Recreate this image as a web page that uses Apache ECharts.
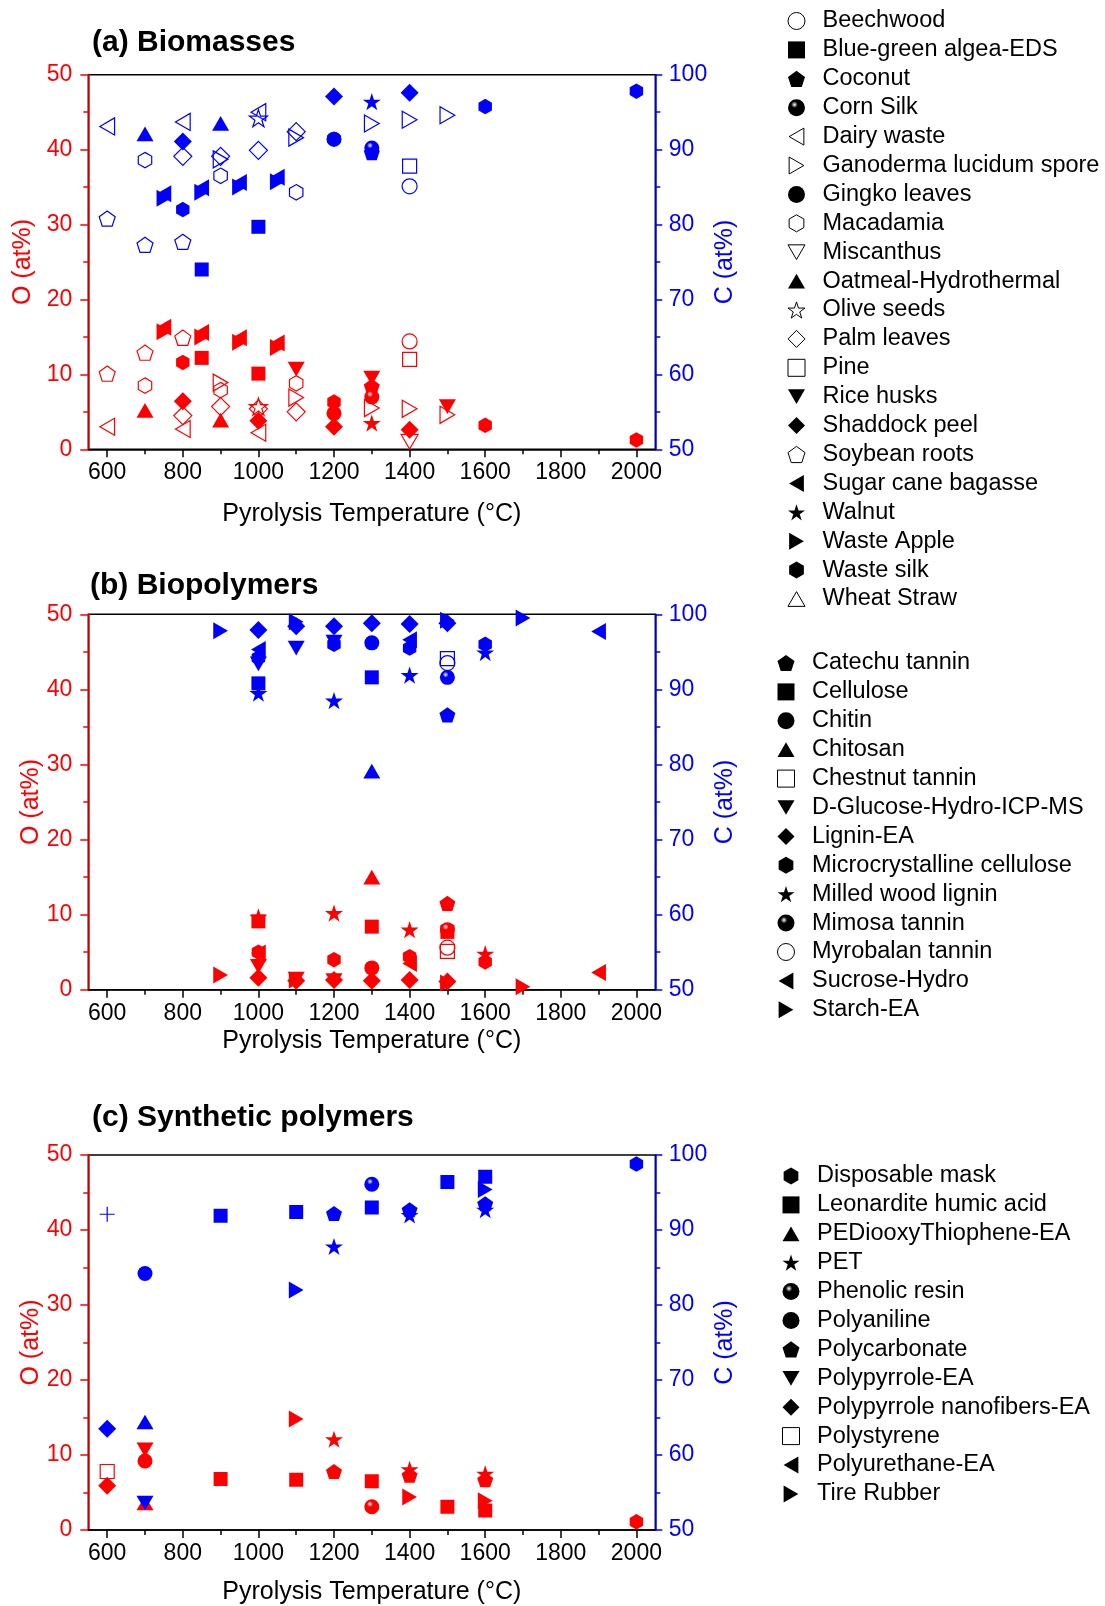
<!DOCTYPE html>
<html>
<head>
<meta charset="utf-8">
<script src="https://cdn.jsdelivr.net/npm/echarts@6/dist/echarts.min.js"></script>
<style>
html,body{margin:0;padding:0;background:#fff;}
#chart{width:1105px;height:1606px;}
</style>
</head>
<body>
<div id="chart"></div>
<script>
// ---------- tick values ----------
const xMajorTicks = [600, 800, 1000, 1200, 1400, 1600, 1800, 2000];
const xMinorTicks = [700, 900, 1100, 1300, 1500, 1700, 1900];

// ---------- (a) Biomasses : [temperature, at%] ----------
const beechwoodO = [[1400, 14.4]];
const beechwoodC = [[1400, 85.1]];
const blueGreenAlgaeO = [[850, 12.2], [1000, 10.1]];
const blueGreenAlgaeC = [[850, 74.0], [1000, 79.7]];
const coconutO = [[1300, 8.4]];
const coconutC = [[1300, 89.6]];
const cornSilkO = [[1300, 7.0]];
const cornSilkC = [[1300, 90.2]];
const dairyWasteO = [[600, 3.0], [800, 2.7], [1000, 2.2]];
const dairyWasteC = [[600, 93.1], [800, 93.7], [1000, 95.0]];
const ganodermaO = [[900, 8.9], [1100, 6.9], [1300, 5.5], [1400, 5.4], [1500, 4.6]];
const ganodermaC = [[900, 88.7], [1100, 91.6], [1300, 93.5], [1400, 94.0], [1500, 94.6]];
const gingkoO = [[1200, 4.8]];
const gingkoC = [[1200, 91.4]];
const macadamiaO = [[700, 8.5], [900, 7.9], [1100, 8.8]];
const macadamiaC = [[700, 88.6], [900, 86.5], [1100, 84.3]];
const miscanthusO = [[1400, 1.0]];
const miscanthusC = [];
const oatmealO = [[700, 5.2], [900, 3.9]];
const oatmealC = [[700, 92.1], [900, 93.5]];
const oliveSeedsO = [[1000, 5.7]];
const oliveSeedsC = [[1000, 94.2]];
const palmLeavesO = [[800, 4.5], [900, 5.7], [1000, 5.4], [1100, 5.0]];
const palmLeavesC = [[800, 89.1], [900, 89.1], [1000, 89.9], [1100, 92.4]];
const pineO = [[1400, 12.0]];
const pineC = [[1400, 87.8]];
const riceHusksO = [[1100, 10.7], [1300, 9.5], [1500, 5.7]];
const riceHusksC = [];
const shaddockO = [[800, 6.4], [1000, 3.8], [1200, 3.0], [1400, 2.6]];
const shaddockC = [[800, 91.1], [1200, 97.1], [1400, 97.6]];
const soybeanO = [[600, 10.1], [700, 12.9], [800, 14.9]];
const soybeanC = [[600, 80.8], [700, 77.3], [800, 77.7]];
const sugarCaneO = [[750, 16.3], [850, 15.6], [950, 14.9], [1050, 14.2]];
const sugarCaneC = [[750, 84.1], [850, 84.9], [950, 85.6], [1050, 86.3]];
const walnutO = [[1300, 3.5]];
const walnutC = [[1300, 96.4]];
const wasteAppleO = [[750, 15.7], [850, 15.0], [950, 14.3], [1050, 13.6]];
const wasteAppleC = [[750, 83.5], [850, 84.3], [950, 85.0], [1050, 85.7]];
const wasteSilkO = [[800, 11.6], [1200, 6.3], [1600, 3.2], [2000, 1.25]];
const wasteSilkC = [[800, 82.0], [1200, 91.4], [1600, 95.75], [2000, 97.8]];
const wheatStrawO = [];
const wheatStrawC = [];

// ---------- (b) Biopolymers ----------
const catechuO = [[1500, 11.5]];
const catechuC = [[1500, 86.6]];
const celluloseO = [[1000, 9.1], [1300, 8.4], [1500, 7.7]];
const celluloseC = [[1000, 90.8], [1300, 91.6]];
const chitinO = [[1300, 2.9]];
const chitinC = [[1300, 96.2]];
const chitosanO = [[1300, 15.0]];
const chitosanC = [[1300, 79.1]];
const chestnutO = [[1500, 5.1]];
const chestnutC = [[1500, 94.1]];
const dGlucoseO = [[1000, 3.1], [1100, 1.4], [1200, 1.2]];
const dGlucoseC = [[1000, 93.4], [1100, 95.5], [1200, 96.3]];
const ligninO = [[1000, 1.6], [1100, 1.2], [1200, 1.3], [1300, 1.2], [1400, 1.3], [1500, 1.1]];
const ligninC = [[1000, 97.9], [1100, 98.4], [1200, 98.4], [1300, 98.8], [1400, 98.7], [1500, 98.8]];
const microcrystO = [[1000, 5.0], [1200, 4.0], [1400, 4.4], [1600, 3.7]];
const microcrystC = [[1000, 94.2], [1200, 96.0], [1400, 95.5], [1600, 96.0]];
const milledWoodO = [[1000, 9.7], [1200, 10.2], [1400, 8.0], [1600, 4.8]];
const milledWoodC = [[1000, 89.5], [1200, 88.5], [1400, 91.9], [1600, 94.9]];
const mimosaO = [[1500, 8.0]];
const mimosaC = [[1500, 91.6]];
const myrobalanO = [[1500, 5.6]];
const myrobalanC = [[1500, 93.5]];
const sucroseO = [[1000, 4.9], [1400, 3.5], [1900, 2.3]];
const sucroseC = [[1000, 95.3], [1400, 96.6], [1900, 97.7]];
const starchO = [[900, 1.95], [1100, 1.3], [1500, 0.9], [1700, 0.4]];
const starchC = [[900, 97.8], [1100, 99.0], [1500, 99.2], [1700, 99.5]];

// ---------- (c) Synthetic polymers ----------
const maskO = [[2000, 1.1]];
const maskC = [[2000, 98.8]];
const leonarditeO = [[900, 6.8], [1100, 6.7], [1300, 6.5], [1500, 3.1], [1600, 2.6]];
const leonarditeC = [[900, 91.9], [1100, 92.4], [1300, 93.0], [1500, 96.4], [1600, 97.1]];
const pedotO = [[700, 3.6]];
const pedotC = [[700, 64.4]];
const petO = [[1200, 12.1], [1400, 8.1], [1600, 7.5]];
const petC = [[1200, 87.8], [1400, 92.0], [1600, 92.7]];
const phenolicO = [[1300, 3.1]];
const phenolicC = [[1300, 96.1]];
const polyanilineO = [[700, 9.2]];
const polyanilineC = [[700, 84.2]];
const polycarbonateO = [[1200, 7.8], [1400, 7.3], [1600, 6.7]];
const polycarbonateC = [[1200, 92.2], [1400, 92.7], [1600, 93.5]];
const polypyrroleO = [[700, 10.7]];
const polypyrroleC = [[700, 53.6]];
const ppyNanofiberO = [[600, 5.9]];
const ppyNanofiberC = [[600, 63.5]];
const polystyreneO = [[600, 7.8]];
const polystyreneC = [];
const polyurethaneO = [];
const polyurethaneC = [];
const tireRubberO = [[1100, 14.8], [1400, 4.4], [1600, 3.9]];
const tireRubberC = [[1100, 82.0], [1600, 95.4]];
const unlabeledPlusC = [[600, 92.1]];

// ---------- styling ----------
const FONT = '"Liberation Sans", Arial, Helvetica, sans-serif';
const RED = '#ff0000';
const BLUE = '#0000ff';

const SYMBOLS = {
  circle: 'circle',
  square: 'rect',
  diamond: 'diamond',
  up: 'path://M50,0 L100,86.6 L0,86.6 Z',
  down: 'path://M0,0 L100,0 L50,86.6 Z',
  left: 'path://M0,50 L86.6,0 L86.6,100 Z',
  right: 'path://M0,0 L86.6,50 L0,100 Z',
  pentagon: 'path://M50,0 L97.55,34.55 L79.39,90.45 L20.61,90.45 L2.45,34.55 Z',
  hexagon: 'path://M50,0 L93.3,25 L93.3,75 L50,100 L6.7,75 L6.7,25 Z',
  star: 'path://M50,0 L61.23,34.55 L97.55,34.55 L68.17,55.9 L79.39,90.45 L50,69.1 L20.61,90.45 L31.83,55.9 L2.45,34.55 L38.77,34.55 Z',
  plus: 'path://M50,0 L50,100 M0,50 L100,50'
};
const SIZES = {circle: 15, square: 14, diamond: 18, up: 17, down: 17, left: 17, right: 17,
  pentagon: 16, hexagon: 15.5, star: 18, plus: 15};

function markStyle(color, fill) {
  if (fill === 'open') return {color: 'rgba(0,0,0,0)', borderColor: color, borderWidth: 1.2, opacity: 1};
  if (fill === 'sphere') return {
    color: {type: 'radial', x: 0.38, y: 0.32, r: 0.7,
      colorStops: [{offset: 0, color: '#ffffff'}, {offset: 0.28, color: color}, {offset: 1, color: color}]},
    borderWidth: 0, opacity: 1
  };
  return {color: color, borderWidth: 0, opacity: 1};
}

// material table: [name, shape, fill, O data, C data]
const panelA = [
  ['Beechwood', 'circle', 'open', beechwoodO, beechwoodC],
  ['Blue-green algea-EDS', 'square', 'filled', blueGreenAlgaeO, blueGreenAlgaeC],
  ['Coconut', 'pentagon', 'filled', coconutO, coconutC],
  ['Corn Silk', 'circle', 'sphere', cornSilkO, cornSilkC],
  ['Dairy waste', 'left', 'open', dairyWasteO, dairyWasteC],
  ['Ganoderma lucidum spore', 'right', 'open', ganodermaO, ganodermaC],
  ['Gingko leaves', 'circle', 'filled', gingkoO, gingkoC],
  ['Macadamia', 'hexagon', 'open', macadamiaO, macadamiaC],
  ['Miscanthus', 'down', 'open', miscanthusO, miscanthusC],
  ['Oatmeal-Hydrothermal', 'up', 'filled', oatmealO, oatmealC],
  ['Olive seeds', 'star', 'open', oliveSeedsO, oliveSeedsC],
  ['Palm leaves', 'diamond', 'open', palmLeavesO, palmLeavesC],
  ['Pine', 'square', 'open', pineO, pineC],
  ['Rice husks', 'down', 'filled', riceHusksO, riceHusksC],
  ['Shaddock peel', 'diamond', 'filled', shaddockO, shaddockC],
  ['Soybean roots', 'pentagon', 'open', soybeanO, soybeanC],
  ['Sugar cane bagasse', 'left', 'filled', sugarCaneO, sugarCaneC],
  ['Walnut', 'star', 'filled', walnutO, walnutC],
  ['Waste Apple', 'right', 'filled', wasteAppleO, wasteAppleC],
  ['Waste silk', 'hexagon', 'filled', wasteSilkO, wasteSilkC],
  ['Wheat Straw', 'up', 'open', wheatStrawO, wheatStrawC]
];
const panelB = [
  ['Catechu tannin', 'pentagon', 'filled', catechuO, catechuC],
  ['Cellulose', 'square', 'filled', celluloseO, celluloseC],
  ['Chitin', 'circle', 'filled', chitinO, chitinC],
  ['Chitosan', 'up', 'filled', chitosanO, chitosanC],
  ['Chestnut tannin', 'square', 'open', chestnutO, chestnutC],
  ['D-Glucose-Hydro-ICP-MS', 'down', 'filled', dGlucoseO, dGlucoseC],
  ['Lignin-EA', 'diamond', 'filled', ligninO, ligninC],
  ['Microcrystalline cellulose', 'hexagon', 'filled', microcrystO, microcrystC],
  ['Milled wood lignin', 'star', 'filled', milledWoodO, milledWoodC],
  ['Mimosa tannin', 'circle', 'sphere', mimosaO, mimosaC],
  ['Myrobalan tannin', 'circle', 'open', myrobalanO, myrobalanC],
  ['Sucrose-Hydro', 'left', 'filled', sucroseO, sucroseC],
  ['Starch-EA', 'right', 'filled', starchO, starchC]
];
const panelC = [
  ['Disposable mask', 'hexagon', 'filled', maskO, maskC],
  ['Leonardite humic acid', 'square', 'filled', leonarditeO, leonarditeC],
  ['PEDiooxyThiophene-EA', 'up', 'filled', pedotO, pedotC],
  ['PET', 'star', 'filled', petO, petC],
  ['Phenolic resin', 'circle', 'sphere', phenolicO, phenolicC],
  ['Polyaniline', 'circle', 'filled', polyanilineO, polyanilineC],
  ['Polycarbonate', 'pentagon', 'filled', polycarbonateO, polycarbonateC],
  ['Polypyrrole-EA', 'down', 'filled', polypyrroleO, polypyrroleC],
  ['Polypyrrole nanofibers-EA', 'diamond', 'filled', ppyNanofiberO, ppyNanofiberC],
  ['Polystyrene', 'square', 'open', polystyreneO, polystyreneC],
  ['Polyurethane-EA', 'left', 'filled', polyurethaneO, polyurethaneC],
  ['Tire Rubber', 'right', 'filled', tireRubberO, tireRubberC]
];

const panels = [panelA, panelB, panelC];
const titles = ['(a) Biomasses', '(b) Biopolymers', '(c) Synthetic polymers'];

// layout (pixels)
const gridTops = [74.7, 614.3, 1155];
const gridHeights = [374.6, 375.4, 375];
const titleTops = [28, 571, 1103];
const titleLefts = [92, 90, 92];
const xNameGaps = [52, 39, 49.5];
const oNameGaps = [53, 45, 45];
const LEG_ICON = 17;
const legendPos = [[787.5, 9], [777, 651], [782, 1164]];

const grids = [], xAxes = [], yAxes = [], series = [], legends = [], titleList = [];

panels.forEach((panel, gi) => {
  grids.push({left: 88.3, width: 567, top: gridTops[gi], height: gridHeights[gi],
    show: true, borderColor: '#000', borderWidth: 1.5, backgroundColor: 'rgba(0,0,0,0)',
    containLabel: false, outerBoundsMode: 'none'});

  titleList.push({text: titles[gi], left: titleLefts[gi], top: titleTops[gi], padding: 0,
    textStyle: {fontFamily: FONT, fontSize: 30, fontWeight: 'bold', color: '#000'}});

  xAxes.push({
    gridIndex: gi, type: 'value', min: 550, max: 2050, position: 'bottom',
    name: 'Pyrolysis Temperature (°C)', nameLocation: 'middle', nameGap: xNameGaps[gi],
    nameMoveOverlap: false,
    nameTextStyle: {fontFamily: FONT, fontSize: 25, color: '#000'},
    axisLine: {show: true, onZero: false, lineStyle: {color: '#000', width: 1.5}},
    axisTick: {show: true, customValues: xMajorTicks, length: 8, inside: false, lineStyle: {color: '#000', width: 1.5}},
    axisLabel: {show: true, customValues: xMajorTicks, margin: 12, fontFamily: FONT, fontSize: 23, color: '#000',
      formatter: v => String(v)},
    splitLine: {show: false}, minorTick: {show: false}
  });
  xAxes.push({
    gridIndex: gi, type: 'value', min: 550, max: 2050, position: 'bottom',
    axisLine: {show: false},
    axisTick: {show: true, customValues: xMinorTicks, length: 5, lineStyle: {color: '#000', width: 1.5}},
    axisLabel: {show: false},
    splitLine: {show: false}
  });

  yAxes.push({
    gridIndex: gi, type: 'value', min: 0, max: 50, interval: 10, position: 'left',
    name: 'O (at%)', nameLocation: 'middle', nameGap: oNameGaps[gi], nameMoveOverlap: false,
    nameTextStyle: {fontFamily: FONT, fontSize: 25, color: RED},
    axisLine: {show: true, onZero: false, lineStyle: {color: RED, width: 1.5}},
    axisTick: {show: true, length: 8, lineStyle: {color: RED, width: 1.5}},
    minorTick: {show: true, splitNumber: 2, length: 5, lineStyle: {color: RED, width: 1.5}},
    axisLabel: {margin: 16, fontFamily: FONT, fontSize: 23, color: RED, formatter: v => String(v)},
    splitLine: {show: false}, minorSplitLine: {show: false}
  });
  yAxes.push({
    gridIndex: gi, type: 'value', min: 50, max: 100, interval: 10, position: 'right',
    name: 'C (at%)', nameLocation: 'middle', nameGap: 57, nameMoveOverlap: false,
    nameTextStyle: {fontFamily: FONT, fontSize: 25, color: BLUE},
    axisLine: {show: true, onZero: false, lineStyle: {color: BLUE, width: 1.5}},
    axisTick: {show: true, length: 7, lineStyle: {color: BLUE, width: 1.5}},
    minorTick: {show: true, splitNumber: 2, length: 5, lineStyle: {color: BLUE, width: 1.5}},
    axisLabel: {margin: 13.5, fontFamily: FONT, fontSize: 23, color: BLUE, formatter: v => String(v)},
    splitLine: {show: false}, minorSplitLine: {show: false}
  });

  panel.forEach(m => {
    const [name, shape, fill, oData, cData] = m;
    const common = {name: name, type: 'scatter', xAxisIndex: gi * 2,
      symbol: SYMBOLS[shape], symbolSize: SIZES[shape], symbolKeepAspect: true,
      emphasis: {disabled: true}, silent: true};
    series.push(Object.assign({}, common, {yAxisIndex: gi * 2, data: oData, itemStyle: markStyle(RED, fill)}));
    series.push(Object.assign({}, common, {yAxisIndex: gi * 2 + 1, data: cData, itemStyle: markStyle(BLUE, fill)}));
  });

  legends.push({
    orient: 'vertical', left: legendPos[gi][0], top: legendPos[gi][1], padding: 0,
    itemWidth: LEG_ICON, itemHeight: LEG_ICON, itemGap: 4.9, selectedMode: false,
    textStyle: {fontFamily: FONT, fontSize: 23.5, color: '#000', padding: [0, 0, 0, 12.5]},
    data: panel.map(m => ({name: m[0], icon: SYMBOLS[m[1]],
      itemStyle: Object.assign(markStyle('#000', m[2]), m[2] === 'open' ? {borderWidth: 1} : {})}))
  });
});

// unlabeled "+" point in panel (c)
series.push({name: 'unlabeled', type: 'scatter', xAxisIndex: 4, yAxisIndex: 5,
  symbol: SYMBOLS.plus, symbolSize: SIZES.plus, data: unlabeledPlusC,
  itemStyle: {color: 'rgba(0,0,0,0)', borderColor: BLUE, borderWidth: 1.2, opacity: 1}, silent: true});

const chart = echarts.init(document.getElementById('chart'), null, {renderer: 'canvas'});
chart.setOption({
  animation: false,
  backgroundColor: '#fff',
  title: titleList,
  grid: grids,
  xAxis: xAxes,
  yAxis: yAxes,
  legend: legends,
  tooltip: {show: false},
  series: series
});
</script>
</body>
</html>
